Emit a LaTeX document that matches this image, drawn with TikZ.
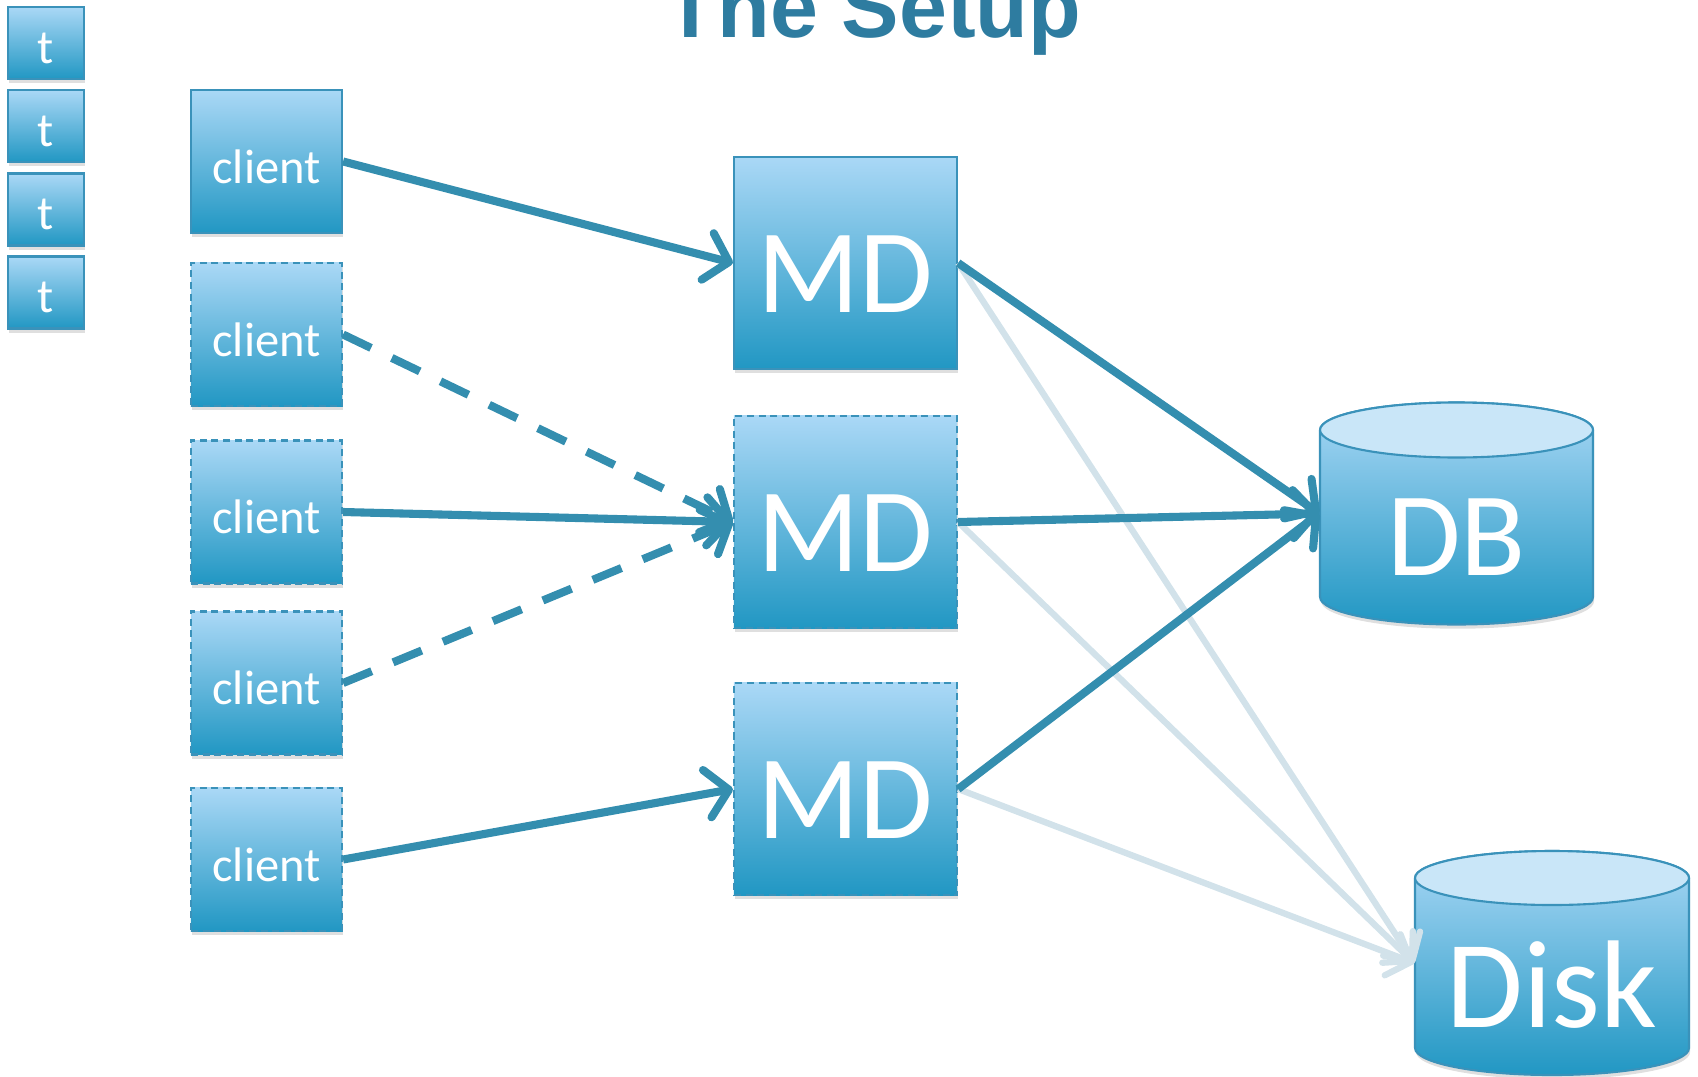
\documentclass[tikz,border=0pt]{standalone}
\usepackage{fontspec}
\setmainfont{Carlito}
\newfontfamily\titlefont{Liberation Sans}
\usetikzlibrary{arrows.meta,shadows}
\definecolor{boxtop}{RGB}{170,216,246}
\definecolor{boxbot}{RGB}{33,151,195}
\definecolor{boxline}{RGB}{58,146,186}
\definecolor{arrowcol}{RGB}{52,142,175}
\definecolor{fadecol}{RGB}{210,226,234}
\definecolor{captop}{RGB}{201,230,248}
\definecolor{titlecol}{RGB}{46,124,160}

\begin{document}
\begin{tikzpicture}[x=0.01cm,y=0.01cm,
  box/.style={rectangle,draw=boxline,line width=0.6pt,top color=boxtop,bottom color=boxbot,text=white,
    drop shadow={shadow xshift=0.3pt,shadow yshift=-1.2pt,opacity=0.25}},
  dashbox/.style={dash pattern=on 2pt off 1.3pt},
  tbox/.style={box,minimum width=0.76cm,minimum height=0.72cm,text height=0.40cm,text depth=0pt,
    font=\fontsize{13.7}{16}\selectfont},
  clientbox/.style={box,minimum width=1.51cm,minimum height=1.43cm,text height=0.43cm,text depth=0pt,
    font=\fontsize{13.8}{17}\selectfont},
  mdbox/.style={box,minimum width=2.23cm,minimum height=2.12cm,text height=0.98cm,text depth=0pt,
    font=\fontsize{34}{40}\selectfont},
  cylbody/.style={draw=boxline,line width=0.6pt,top color=boxtop,bottom color=boxbot,
    drop shadow={shadow xshift=0.3pt,shadow yshift=-1.2pt,opacity=0.25}},
  cylcap/.style={draw=boxline,line width=0.6pt,fill=captop},
  cyltext/.style={text=white,font=\fontsize{34}{40}\selectfont},
  link/.style={draw=arrowcol,line width=2.3pt,-{Straight Barb[length=2.2mm,width=4.8mm,round]}},
  dashlink/.style={link,dash pattern=on 0.31cm off 0.23cm},
  fadelink/.style={draw=fadecol,line width=1.8pt,-{Straight Barb[length=2mm,width=4.4mm,round]}},
]
\useasboundingbox (0,0) rectangle (1698,-1076);

\node (title) at (873,-38) [anchor=base,text=titlecol,font=\titlefont\bfseries\fontsize{24.5}{28}\selectfont] {The Setup};

% threads
\node (t1) at (46,-43) [tbox] {t};
\node (t2) at (46,-126) [tbox] {t};
\node (t3) at (46,-209.5) [tbox] {t};
\node (t4) at (46,-292.5) [tbox] {t};

% clients
\node (c1) at (266.5,-161.5) [clientbox] {client};
\node (c2) at (266.5,-334.5) [clientbox,dashbox] {client};
\node (c3) at (266.5,-512) [clientbox,dashbox] {client};
\node (c4) at (266.5,-683) [clientbox,dashbox] {client};
\node (c5) at (266.5,-859.5) [clientbox,dashbox] {client};

% metadata servers
\node (md1) at (845.5,-263) [mdbox] {MD};
\node (md2) at (845.5,-522) [mdbox,dashbox] {MD};
\node (md3) at (845.5,-789) [mdbox,dashbox] {MD};

% DB cylinder
\path[cylbody] (1320,-430) -- (1320,-597) arc[start angle=180,end angle=360,x radius=136.5,y radius=27.5]
  -- (1593,-430) arc[start angle=0,end angle=180,x radius=136.5,y radius=27.5] -- cycle;
\draw[cylcap] (1456.5,-430) ellipse[x radius=136.5,y radius=27.5];
\node (db) at (1456.5,-513.5) [minimum width=2.73cm,minimum height=1.67cm,inner sep=0pt,
  label={[cyltext,yshift=-0.24cm]center:DB}] {};

% Disk cylinder
\path[cylbody] (1415,-878) -- (1415,-1048) arc[start angle=180,end angle=360,x radius=137,y radius=27]
  -- (1689,-878) arc[start angle=0,end angle=180,x radius=137,y radius=27] -- cycle;
\draw[cylcap] (1552,-878) ellipse[x radius=137,y radius=27];
\node (disk) at (1552,-963) [minimum width=2.74cm,minimum height=1.70cm,inner sep=0pt,
  label={[cyltext,font=\fontsize{35.5}{42}\selectfont,yshift=-0.22cm]center:Disk}] {};

\draw[fadelink] (md1.east) -- (disk.west);
\draw[fadelink] (md2.east) -- (disk.west);
\draw[fadelink] (md3.east) -- (disk.west);

\draw[link] (c1.east) -- (md1.west);
\draw[dashlink] (c2.east) -- (md2.west);
\draw[link] (c3.east) -- (md2.west);
\draw[dashlink] (c4.east) -- (md2.west);
\draw[link] (c5.east) -- (md3.west);

\draw[link] (md1.east) -- (db.west);
\draw[link] (md2.east) -- (db.west);
\draw[link] (md3.east) -- (db.west);
\end{tikzpicture}
\end{document}
